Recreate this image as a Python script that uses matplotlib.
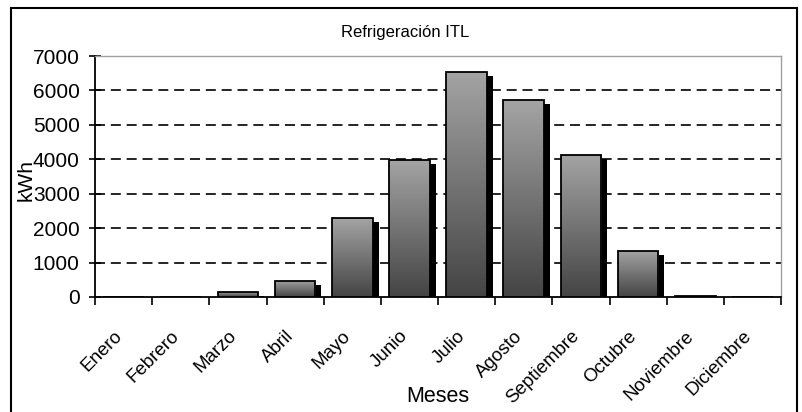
import numpy as np
import matplotlib
matplotlib.use("Agg")
import matplotlib.pyplot as plt
from matplotlib import transforms
from matplotlib.patches import Rectangle

plt.rcParams['font.family'] = ['Liberation Sans', 'DejaVu Sans']

months = ["Enero", "Febrero", "Marzo", "Abril", "Mayo", "Junio", "Julio",
          "Agosto", "Septiembre", "Octubre", "Noviembre", "Diciembre"]
kwh = [0, 0, 150, 465, 2290, 3980, 6545, 5720, 4125, 1345, 40, 0]
yticks = [0, 1000, 2000, 3000, 4000, 5000, 6000, 7000]
title = "Refrigeración ITL"
xlabel = "Meses"
ylabel = "kWh"

W, H = 802, 412
fig = plt.figure(figsize=(W / 100, H / 100), dpi=100)
ax = fig.add_axes([95 / W, 1 - 297 / H, 686 / W, 241 / H])

x = np.arange(len(months))
bw = 0.71

# shadow bars
shadow_tr = transforms.offset_copy(ax.transData, fig=fig, x=6, y=-4, units='dots')
ax.bar(x, kwh, width=bw, color='black', edgecolor='black', linewidth=0,
       transform=shadow_tr, zorder=2)

# main bars with gradient
bars = ax.bar(x, kwh, width=bw, facecolor='none', edgecolor='black',
              linewidth=1.3, zorder=4)
grad = np.linspace(0, 1, 256).reshape(-1, 1)
cmap = matplotlib.colors.LinearSegmentedColormap.from_list(
    'g', ['#a4a4a4', '#444444'])
for b in bars:
    if b.get_height() <= 0:
        continue
    x0 = b.get_x()
    im = ax.imshow(grad, extent=(x0, x0 + b.get_width(), 0, b.get_height()),
                   cmap=cmap, aspect='auto', origin='upper', zorder=3,
                   interpolation='bilinear')
    im.set_clip_path(b)

ax.set_xlim(-0.5, len(months) - 0.5)
ax.set_ylim(0, 7000)

# grid
for v in yticks[1:-1]:
    ax.axhline(v, color='black', linewidth=1.2, linestyle=(0, (6, 3.5)),
               zorder=1)

ax.set_yticks(yticks)
ax.set_yticklabels([str(v) for v in yticks], fontsize=15)
ax.tick_params(axis='y', direction='inout', length=9, width=1.2, pad=6.5)

ax.set_xticks(np.arange(len(months) + 1) - 0.5)
ax.set_xticklabels([])
ax.tick_params(axis='x', which='major', direction='out', length=6, width=1.2)
ax.set_xticks(x, minor=True)
ax.set_xticklabels(months, minor=True, rotation=45, ha='right',
                   rotation_mode='anchor', fontsize=13.5)
ax.tick_params(axis='x', which='minor', length=0, pad=22)
shift = transforms.ScaledTranslation(-10 / 100, 0, fig.dpi_scale_trans)
for lab in ax.get_xticklabels(minor=True):
    lab.set_transform(lab.get_transform() + shift)

for s in ['left', 'bottom']:
    ax.spines[s].set_color('black')
    ax.spines[s].set_linewidth(1.3)
for s in ['top', 'right']:
    ax.spines[s].set_color('#a0a0a0')
    ax.spines[s].set_linewidth(1.0)

fig.text(405 / W, 1 - 33 / H, title, ha='center', va='center', fontsize=12)
fig.text(438 / W, 1 - 397 / H, xlabel, ha='center', va='center', fontsize=15.5)
fig.text(26 / W, 1 - 180 / H, ylabel, ha='center', va='center', rotation=90,
         fontsize=15)

fig.patches.append(Rectangle((11 / W, -0.05), (797 - 11) / W, 0.05 + 1 - 8 / H,
                             transform=fig.transFigure, fill=False,
                             edgecolor='black', linewidth=1.5))

fig.savefig("out.png", dpi=100)
